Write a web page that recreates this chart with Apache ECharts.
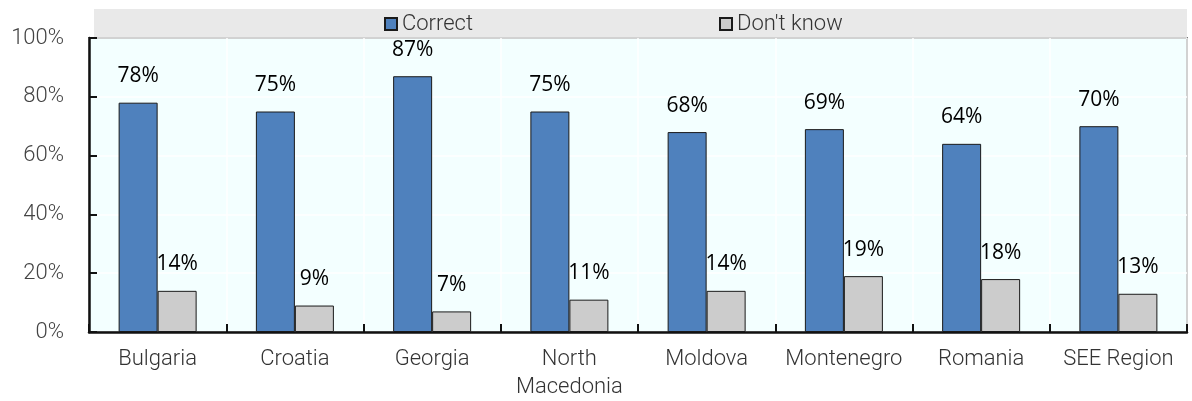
<!DOCTYPE html>
<html>
<head>
<meta charset="utf-8">
<script src="https://cdn.jsdelivr.net/npm/echarts@6/dist/echarts.min.js"></script>
<style>
  html, body { margin: 0; padding: 0; background: #ffffff; }
  #chart { width: 1192px; height: 401px; }
</style>
</head>
<body>
<div id="chart"></div>
<script>
// Survey results by country: share answering correctly vs. "Don't know"
const categories = ['Bulgaria', 'Croatia', 'Georgia', 'North\nMacedonia', 'Moldova', 'Montenegro', 'Romania', 'SEE Region'];
const correct = [78, 75, 87, 75, 68, 69, 64, 70];
const dontKnow = [14, 9, 7, 11, 14, 19, 18, 13];
const yTicks = [0, 20, 40, 60, 80, 100];

const axisFont = 'Roboto, sans-serif';
const labelFont = '"Open Sans", sans-serif';

const chart = echarts.init(document.getElementById('chart'), null, { renderer: 'canvas' });

function valueLabel() {
  return {
    show: true,
    position: 'top',
    distance: 16,
    formatter: p => p.value + '%',
    color: '#000000',
    fontFamily: labelFont,
    fontSize: 21
  };
}

const legendText = { fontFamily: axisFont, fontWeight: 300, fontSize: 22, color: '#333333' };

chart.setOption({
  animation: false,
  graphic: [{
    type: 'rect',
    shape: { x: 94, y: 9, width: 1093, height: 28 },
    style: { fill: '#e9e9e9' },
    z: -1
  }],
  legend: [
    {
      data: ['Correct'],
      icon: 'rect',
      left: 384, top: 13, padding: 0,
      itemWidth: 12, itemHeight: 12, itemGap: 3,
      textStyle: legendText
    },
    {
      data: ["Don't know"],
      icon: 'rect',
      left: 719, top: 13, padding: 0,
      itemWidth: 12, itemHeight: 12, itemGap: 3,
      textStyle: legendText
    }
  ],
  grid: {
    left: 89, right: 5, top: 38, bottom: 69,
    show: true,
    backgroundColor: '#f3ffff',
    borderColor: '#111111',
    borderWidth: 1.5
  },
  xAxis: {
    type: 'category',
    data: categories,
    axisLine: { show: true, lineStyle: { color: '#111111', width: 2.5 } },
    axisTick: { show: true, inside: true, length: 8, lineStyle: { color: '#111111', width: 2 } },
    splitLine: { show: true, lineStyle: { color: '#ffffff', width: 1.5 } },
    axisLabel: {
      fontFamily: axisFont, fontWeight: 300, fontSize: 22, color: '#333333',
      margin: 13, lineHeight: 28, interval: 0
    }
  },
  yAxis: {
    type: 'value',
    min: 0, max: 100, interval: 20,
    axisLine: { show: true, lineStyle: { color: '#111111', width: 2.5 } },
    axisTick: { show: true, inside: true, length: 8, lineStyle: { color: '#111111', width: 2 } },
    splitLine: { show: true, lineStyle: { color: '#ffffff', width: 1.5 } },
    axisLabel: {
      formatter: v => (yTicks.includes(v) ? v + '%' : ''),
      fontFamily: axisFont, fontWeight: 300, fontSize: 22, color: '#444444', margin: 25
    }
  },
  series: [
    {
      name: 'Correct',
      type: 'bar',
      data: correct,
      barWidth: 39,
      barGap: '0%',
      itemStyle: { color: '#4f81bd', borderColor: '#1a1a1a', borderWidth: 1 },
      label: valueLabel()
    },
    {
      name: "Don't know",
      type: 'bar',
      data: dontKnow,
      barWidth: 39,
      itemStyle: { color: '#cccccc', borderColor: '#1a1a1a', borderWidth: 1 },
      label: valueLabel()
    }
  ]
});
</script>
</body>
</html>
